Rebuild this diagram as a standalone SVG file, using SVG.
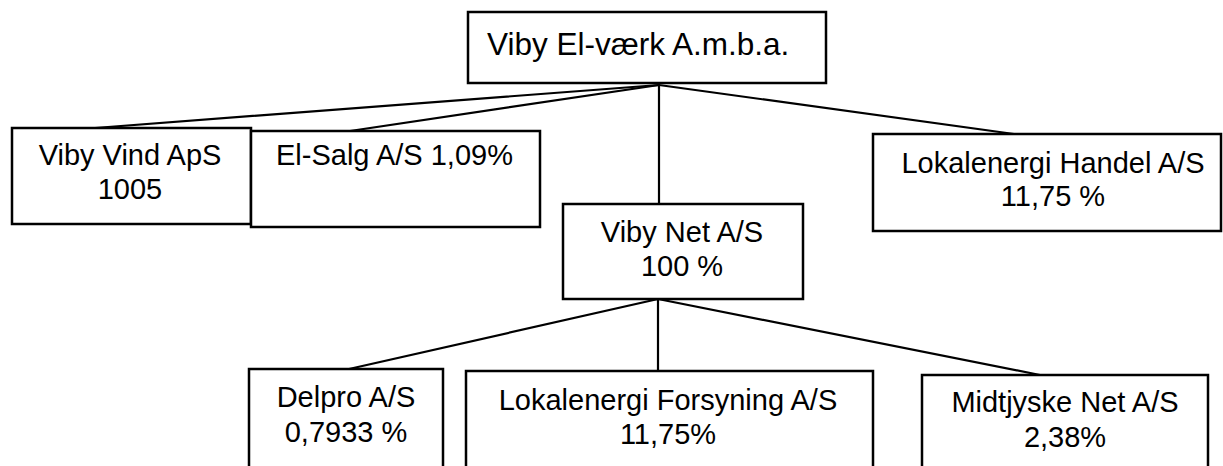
<svg xmlns="http://www.w3.org/2000/svg" width="1223" height="466" viewBox="0 0 1223 466">
<style>
.box{fill:#fff;stroke:#000;stroke-width:2.5}
.ln{fill:none;stroke:#000;stroke-width:2.2;stroke-linecap:round}
text{font-family:"Liberation Sans",Arial,sans-serif;font-size:29px;fill:#000}
.c{text-anchor:middle}
</style>
<rect width="1223" height="466" fill="#fff"/>
<g id="connectors">
<line class="ln" x1="659" y1="85" x2="95" y2="128"/>
<line class="ln" x1="659" y1="85" x2="350" y2="131"/>
<line class="ln" x1="659" y1="85" x2="1014" y2="134"/>
<line class="ln" x1="659" y1="85" x2="659" y2="204"/>
<line class="ln" x1="658" y1="299" x2="349" y2="369"/>
<line class="ln" x1="658" y1="299" x2="658" y2="371"/>
<line class="ln" x1="658" y1="299" x2="1040" y2="375"/>
</g>
<g id="viby-elvaerk">
<rect class="box" x="468" y="12" width="358" height="71"/>
<text x="487" y="55" style="font-size:31.5px">Viby El-værk A.m.b.a.</text>
</g>
<g id="viby-vind">
<rect class="box" x="12" y="128" width="239" height="96"/>
<text class="c" x="130" y="165">Viby Vind ApS</text>
<text class="c" x="130" y="199">1005</text>
</g>
<g id="el-salg">
<rect class="box" x="251" y="131" width="289" height="96"/>
<text x="276" y="165">El-Salg A/S 1,09%</text>
</g>
<g id="lokalenergi-handel">
<rect class="box" x="873" y="134" width="348" height="97"/>
<text class="c" x="1053" y="173">Lokalenergi Handel A/S</text>
<text class="c" x="1053" y="206">11,75 %</text>
</g>
<g id="viby-net">
<rect class="box" x="563" y="204" width="240" height="95"/>
<text class="c" x="682" y="242">Viby Net A/S</text>
<text class="c" x="682" y="276">100 %</text>
</g>
<g id="delpro">
<rect class="box" x="249" y="369" width="194" height="110"/>
<text class="c" x="346" y="407">Delpro A/S</text>
<text class="c" x="346" y="442">0,7933 %</text>
</g>
<g id="lokalenergi-forsyning">
<rect class="box" x="466" y="371" width="407" height="110"/>
<text class="c" x="668" y="410">Lokalenergi Forsyning A/S</text>
<text class="c" x="668" y="444">11,75%</text>
</g>
<g id="midtjyske-net">
<rect class="box" x="922" y="375" width="286" height="110"/>
<text class="c" x="1065" y="412">Midtjyske Net A/S</text>
<text class="c" x="1065" y="447">2,38%</text>
</g>
</svg>
